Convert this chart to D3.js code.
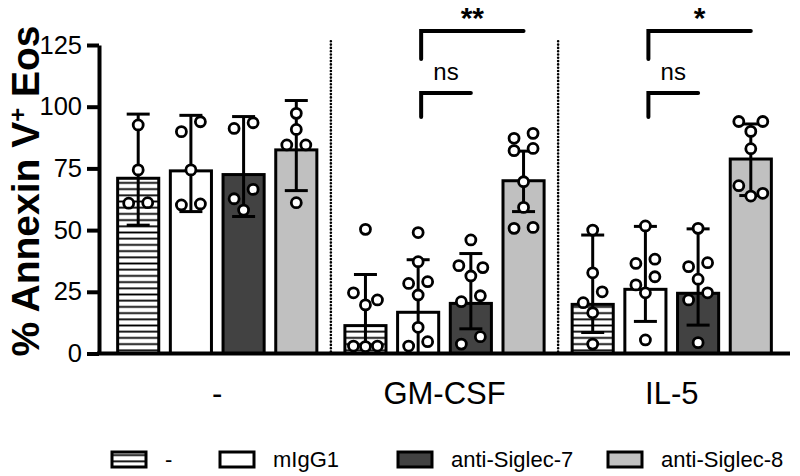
<!DOCTYPE html>
<html>
<head>
<meta charset="utf-8">
<script src="https://cdn.jsdelivr.net/npm/d3@7"></script>
<style>
  html, body { margin: 0; padding: 0; background: #fff; }
  svg { display: block; font-family: "Liberation Sans", Arial, sans-serif; }
</style>
</head>
<body>
<div id="chart"></div>
<script>
// groups on the x axis and the four treatments inside each group
const groups = ["-", "GM-CSF", "IL-5"];
const series = ["-", "mIgG1", "anti-Siglec-7", "anti-Siglec-8"];

// bar heights (% Annexin V+ Eos), one row per group
const barValues = [
    [71, 74, 72.5, 82.5],
    [11.3, 16.7, 20.3, 70],
    [19.9, 26, 24.4, 78.8]
];
// error bar ends
const errHigh = [
    [97, 96.5, 96, 102.5],
    [32, 38, 40.5, 82],
    [48, 51.5, 50.5, 93]
];
const errLow = [
    [52, 57.5, 55.5, 66],
    [0, 0, 10, 57.5],
    [8.5, 13, 11.5, 64]
];

// individual donors per bar
const pointsNone = [
    [92.6, 74.4, 60.9, 61.1],
    [93.9, 89.9, 74.4, 60.6, 60.2],
    [93.5, 91.2, 66.5, 62.7, 58.1],
    [97.3, 90.8, 84.5, 84.5, 61.1]
];
const pointsGM = [
    [50.3, 24.6, 21.7, 19.7, 3, 3, 2.8],
    [49, 37.2, 29.1, 28.4, 23.7, 10.6, 4.8, 3],
    [46, 35.6, 34.8, 31.4, 23.4, 21, 6.8, 3.8],
    [89.2, 87.2, 83.1, 82.2, 69.6, 59.2, 51.1, 50.7]
];
const pointsIL5 = [
    [50, 32.7, 25, 20.6, 16.5, 3.8],
    [51.7, 38.2, 36.5, 31.1, 27.8, 24.6, 5.5],
    [50.7, 36.8, 35.2, 30.1, 24.6, 21.7, 4.4],
    [94, 94, 90, 83, 68, 64.9, 63.8]
];
const points = [pointsNone, pointsGM, pointsIL5];

const yTicks = [0, 25, 50, 75, 100, 125];

// significance brackets: group, compared series, bracket level, left leg end
const sigGroups = ["GM-CSF", "GM-CSF", "IL-5", "IL-5"];
const sigTo = ["anti-Siglec-7", "anti-Siglec-8", "anti-Siglec-7", "anti-Siglec-8"];
const sigLevel = [105.6, 130.7, 105.6, 130.7];
const sigLeg = [95.8, 119.3, 95.8, 119.3];
const sigLabels = ["ns", "**", "ns", "*"];

const fills = ["url(#hatch)", "#ffffff", "#424242", "#c0c0c0"];

const W = 800, H = 476;

let svg = d3.select("#chart").append("svg")
    .attr("width", W)
    .attr("height", H);

svg.append("rect").attr("width", W).attr("height", H).attr("fill", "#fff");

// hatch pattern for the "-" treatment
let pat = svg.append("defs").append("pattern")
    .attr("id", "hatch")
    .attr("patternUnits", "userSpaceOnUse")
    .attr("width", 8)
    .attr("height", 6.2);
pat.append("rect").attr("width", 8).attr("height", 6.2).attr("fill", "#fff");
pat.append("line")
    .attr("x1", 0).attr("x2", 8)
    .attr("y1", 3.1).attr("y2", 3.1)
    .attr("stroke", "#000")
    .attr("stroke-width", 1.8);

//scales
let yScale = d3.scaleLinear().domain([0, 125]).range([353.5, 45]);

let x0 = d3.scaleBand()
    .domain(groups)
    .range([111.85, 777.15])
    .paddingInner(0.0724);

let x1 = d3.scaleBand()
    .domain(series)
    .range([0, x0.bandwidth()])
    .paddingInner(0.22)
    .paddingOuter(0.11);

const barCenter = (g, s) => x0(g) + x1(s) + x1.bandwidth() / 2;

// dotted separators between groups
let gap = x0.step() - x0.bandwidth();
svg.selectAll(".sep")
    .data(groups.slice(1))
    .enter()
    .append("line")
    .attr("class", "sep")
    .attr("x1", d => x0(d) - gap / 2)
    .attr("x2", d => x0(d) - gap / 2)
    .attr("y1", yScale(126.5))
    .attr("y2", yScale(0))
    .attr("stroke", "#000")
    .attr("stroke-width", 2.6)
    .attr("stroke-linecap", "round")
    .attr("stroke-dasharray", "0,3.3");

// bars
let barData = [];
groups.forEach((g, gi) => {
    series.forEach((s, si) => {
        barData.push({g: g, s: s, si: si, v: barValues[gi][si],
            hi: errHigh[gi][si], lo: errLow[gi][si], pts: points[gi][si]});
    });
});

svg.selectAll(".bar")
    .data(barData)
    .enter()
    .append("rect")
    .attr("class", "bar")
    .attr("x", d => x0(d.g) + x1(d.s))
    .attr("y", d => yScale(d.v))
    .attr("width", x1.bandwidth())
    .attr("height", d => yScale(0) - yScale(d.v))
    .attr("fill", d => fills[d.si])
    .attr("stroke", "#000")
    .attr("stroke-width", 3);

// error bars
let eb = svg.selectAll(".err")
    .data(barData)
    .enter()
    .append("g")
    .attr("class", "err")
    .attr("stroke", "#000")
    .attr("stroke-width", 3);
eb.append("line")
    .attr("x1", d => barCenter(d.g, d.s))
    .attr("x2", d => barCenter(d.g, d.s))
    .attr("y1", d => yScale(d.hi))
    .attr("y2", d => yScale(d.lo));
[ "hi", "lo" ].forEach(k => {
    eb.append("line")
        .attr("x1", d => barCenter(d.g, d.s) - 11.5)
        .attr("x2", d => barCenter(d.g, d.s) + 11.5)
        .attr("y1", d => yScale(d[k]))
        .attr("y2", d => yScale(d[k]));
});

// spread the points sideways where they overlap
const pxPerUnit = yScale(0) - yScale(1);
function swarm(vals) {
    let sorted = vals.slice().sort((a, b) => b - a);
    let rows = [];
    sorted.forEach(v => {
        let r = rows[rows.length - 1];
        if (r && (r[0] - v) * pxPerUnit < 12.5) r.push(v);
        else rows.push([v]);
    });
    let out = [];
    rows.forEach(r => {
        if (r.length === 1) out.push({v: r[0], dx: 0});
        else if (r.length === 2) {
            out.push({v: r[0], dx: 9.5});
            out.push({v: r[1], dx: -9.5});
        } else if (r.length === 3) {
            out.push({v: r[0], dx: -12});
            out.push({v: r[1], dx: 12});
            out.push({v: r[2], dx: 0});
        } else {
            r.forEach((v, i) => out.push({v: v, dx: -12 + i * 24 / (r.length - 1)}));
        }
    });
    return out;
}

let dotData = [];
barData.forEach(d => {
    swarm(d.pts).forEach(p => {
        dotData.push({cx: barCenter(d.g, d.s) + p.dx, v: p.v});
    });
});

svg.selectAll(".dot")
    .data(dotData)
    .enter()
    .append("circle")
    .attr("class", "dot")
    .attr("cx", d => d.cx)
    .attr("cy", d => yScale(d.v))
    .attr("r", 5)
    .attr("fill", "#fff")
    .attr("stroke", "#000")
    .attr("stroke-width", 2.8);

// y axis
let yAxis = d3.axisLeft(yScale)
    .tickValues(yTicks)
    .tickSize(12)
    .tickSizeOuter(0)
    .tickPadding(5);
let yg = svg.append("g")
    .attr("transform", "translate(99,0)")
    .call(yAxis);
yg.select(".domain").attr("stroke-width", 4);
yg.selectAll(".tick line").attr("stroke-width", 4);
yg.selectAll("text")
    .attr("font-size", 25.5)
    .attr("font-family", "'Liberation Sans', Arial, sans-serif")
    .attr("fill", "#000");

// x axis line and group labels
svg.append("line")
    .attr("x1", 97).attr("x2", 790)
    .attr("y1", yScale(0)).attr("y2", yScale(0))
    .attr("stroke", "#000")
    .attr("stroke-width", 4);

let xAxis = d3.axisBottom(x0).tickSize(0).tickPadding(28.5);
let xg = svg.append("g")
    .attr("transform", "translate(0," + yScale(0) + ")")
    .call(xAxis);
xg.select(".domain").remove();
xg.selectAll("text")
    .attr("font-size", 31)
    .attr("font-family", "'Liberation Sans', Arial, sans-serif")
    .attr("fill", "#000");

// y title
let title = svg.append("text")
    .attr("transform", "translate(39,191) rotate(-90)")
    .attr("text-anchor", "middle")
    .attr("font-size", 39)
    .attr("font-weight", "bold")
    .attr("fill", "#000");
title.append("tspan").text("% Annexin V");
title.append("tspan").text("+").attr("font-size", 24).attr("baseline-shift", "super");
title.append("tspan").text(" Eos");

// significance brackets
let sig = svg.selectAll(".sig")
    .data(sigLabels.map((lab, i) => ({lab: lab, g: sigGroups[i], to: sigTo[i], lvl: sigLevel[i], leg: sigLeg[i]})))
    .enter()
    .append("g")
    .attr("class", "sig");
sig.append("path")
    .attr("d", d => {
        let xa = barCenter(d.g, "mIgG1") + 3, xb = barCenter(d.g, d.to);
        return "M" + xa + "," + yScale(d.leg) + "V" + yScale(d.lvl) + "H" + xb;
    })
    .attr("fill", "none")
    .attr("stroke", "#000")
    .attr("stroke-width", 4)
    .attr("stroke-linecap", "round")
    .attr("stroke-linejoin", "miter");
sig.append("text")
    .attr("x", d => (barCenter(d.g, "mIgG1") + 3 + barCenter(d.g, d.to)) / 2)
    .attr("y", d => d.lab === "ns" ? yScale(d.lvl) - 13 : yScale(d.lvl) - 3)
    .attr("text-anchor", "middle")
    .attr("font-size", d => d.lab === "ns" ? 24 : 30)
    .attr("font-weight", d => d.lab === "ns" ? "normal" : "bold")
    .attr("fill", "#000")
    .text(d => d.lab);

// legend
const legendX = [112, 220, 398, 608];
let leg = svg.selectAll(".leg")
    .data(series)
    .enter()
    .append("g")
    .attr("class", "leg")
    .attr("transform", (d, i) => "translate(" + legendX[i] + ",452)");
leg.append("rect")
    .attr("width", 34)
    .attr("height", 15)
    .attr("fill", (d, i) => fills[i])
    .attr("stroke", "#000")
    .attr("stroke-width", 3);
leg.append("text")
    .attr("x", 53)
    .attr("y", 15)
    .attr("font-size", 22)
    .attr("fill", "#000")
    .text(d => d);
</script>
</body>
</html>
